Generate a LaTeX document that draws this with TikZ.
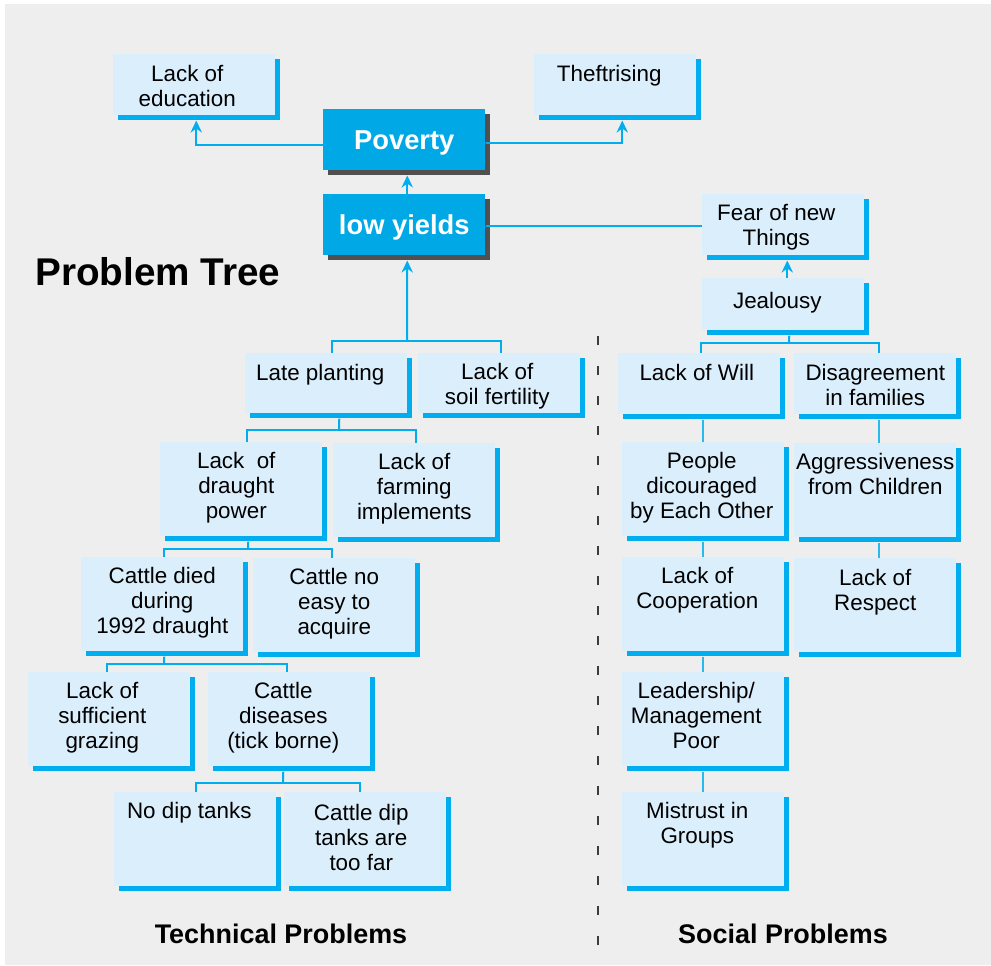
\documentclass[tikz,border=0pt]{standalone}
\usepackage{fontspec}
\setmainfont{Liberation Sans}
\usetikzlibrary{shadows,arrows.meta}
\definecolor{bgc}{HTML}{EEEEEE}
\definecolor{boxc}{HTML}{DBEEFB}
\definecolor{cyc}{HTML}{00AEEF}
\definecolor{povc}{HTML}{00A9E6}
\definecolor{darkc}{HTML}{505050}
\definecolor{divc}{HTML}{3C3C3C}
\tikzset{
  bx/.style={fill=boxc, inner sep=0pt, anchor=north west,
    font=\fontsize{16.8pt}{18.75pt}\selectfont,
    drop shadow={shadow xshift=3.75pt, shadow yshift=-3.75pt, fill=cyc, opacity=1}},
  kbox/.style={fill=povc, inner sep=0pt, anchor=north west, text=white,
    minimum width=121.5pt, minimum height=45.75pt, text depth=0pt,
    font=\bfseries\fontsize{20.5pt}{24pt}\selectfont,
    drop shadow={shadow xshift=3.75pt, shadow yshift=-3.75pt, fill=darkc, opacity=1}},
  ln/.style={draw=cyc, line width=1.5pt},
  ln2/.style={draw=cyc!85, line width=1.5pt},
  upar/.style={-{Stealth[length=9pt,width=8.5pt,inset=3pt]}},
  divider/.style={draw=divc, line width=2.2pt, dash pattern=on 6.75pt off 15.75pt},
  bigtitle/.style={inner sep=0pt, font=\bfseries\fontsize{29pt}{34pt}\selectfont},
  subtitle/.style={inner sep=0pt, font=\bfseries\fontsize{20.2pt}{24pt}\selectfont}
}
% name, x1, y1, x2, y2, left offset (px), first baseline (px), text
\newcommand\pbx[8]{%
  \node[bx] (#1) at (#2,#3) {\parbox[t][\dimexpr0.75pt*\numexpr#5-#3\relax\relax][t]{\dimexpr0.75pt*\numexpr#4-#2\relax\relax}{\centering\rightskip=#6\dimexpr1.5pt\relax plus 1fil\relax\rule{0pt}{#7\dimexpr0.75pt\relax}#8\par}};
  \coordinate (#1s) at ([yshift=-3.75pt]#1.south);}
\begin{document}
\begin{tikzpicture}[x=0.75pt, y=-0.75pt]
\useasboundingbox (0,0) rectangle (991,965);
\fill[white] (0,0) rectangle (991,965);
\fill[bgc] (5,4) rectangle (991,965);

% top
\node[kbox] (pov) at (323,109) {Poverty};
\coordinate (povs) at ([yshift=-3.75pt]pov.south);
\node[kbox] (low) at (323,194) {low yields};
\coordinate (lows) at ([yshift=-3.75pt]low.south);

\pbx{edu}{113}{54}{275}{115}{7}{27}{Lack of\\education}
\pbx{theft}{534}{54}{696}{115}{6}{27}{Theftrising}
\pbx{fear}{702}{194}{864}{255}{7}{26}{Fear of new\\Things}
\pbx{jeal}{702}{278}{864}{330}{6}{30}{Jealousy}

% technical side
\pbx{late}{245}{353}{407}{413}{6}{27}{Late planting}
\pbx{soil}{418}{353}{580}{413}{2}{26}{Lack of\\soil fertility}
\pbx{draught}{160}{442}{322}{536}{5}{26}{Lack~ of\\draught\\power}
\pbx{farm}{333}{443}{495}{537}{0}{26}{Lack of\\farming\\implements}
\pbx{died}{81}{557}{243}{651}{0}{26}{Cattle died\\during\\1992 draught}
\pbx{cno}{253}{558}{415}{652}{0}{26}{Cattle no\\easy to\\acquire}
\pbx{graz}{28}{672}{190}{766}{7}{26}{Lack of\\sufficient\\grazing}
\pbx{dis1}{208}{672}{370}{766}{6}{26}{Cattle\\diseases\\(tick borne)}
\pbx{nodip}{114}{792}{276}{886}{6}{26}{No dip tanks}
\pbx{far}{284}{792}{446}{886}{4}{28}{Cattle dip\\tanks are\\too far}

% social side
\pbx{will}{618}{353}{780}{414}{2.5}{27}{Lack of Will}
\pbx{dis}{794}{353}{956}{414}{0}{27}{Disagreement\\in families}
\pbx{people}{622}{442}{784}{536}{1.5}{26}{People\\dicouraged\\by Each Other}
\pbx{agg}{794}{443}{956}{537}{0}{26}{Aggressiveness\\from Children}
\pbx{coop}{622}{557}{784}{651}{6}{26}{Lack of\\Cooperation}
\pbx{resp}{794}{558}{956}{652}{0}{27}{Lack of\\Respect}
\pbx{lead}{622}{672}{784}{766}{7}{26}{Leadership/\\Management\\Poor}
\pbx{mist}{622}{792}{784}{886}{6}{26}{Mistrust in\\Groups}

% titles
\node[bigtitle, anchor=base west] (title) at (35,285) {Problem Tree};
\node[subtitle, anchor=base] (tech) at (281,943) {Technical Problems};
\node[subtitle, anchor=base] (soc) at (783,943) {Social Problems};

% divider
\draw[divider] (598,336) -- (598,945);

% top connectors
\draw[ln,upar] ([yshift=-4.1pt]pov.west) -| ([xshift=1.5pt]edus);
\draw[ln,upar] ([yshift=-2.6pt]pov.east) -| ([xshift=5.25pt]thefts);
\draw[ln,upar] ([xshift=2.25pt]low.north) -- ([xshift=2.25pt]povs);
\draw[ln] ([yshift=-1.1pt]low.east) -- ([yshift=-1.1pt]fear.west);
\draw[ln,upar] ([xshift=3pt]jeal.north) -- ([xshift=3pt]fears);

% social connectors
\coordinate (jb) at (789,343);
\draw[ln] ([xshift=4.5pt]jeals) -- (jb);
\draw[ln] ([xshift=1.5pt]will.north) |- (jb) -| ([xshift=3pt]dis.north);
\draw[ln2] (people.north) -- (people.north |- wills);
\draw[ln2] ([xshift=3pt]agg.north) -- ([xshift=3pt]diss);
\draw[ln2] (coop.north) -- (peoples);
\draw[ln2] ([xshift=3pt]resp.north) -- ([xshift=3pt]aggs);
\draw[ln2] (lead.north) -- (coops);
\draw[ln2] (mist.north) -- (leads);

% technical connectors
\coordinate (lb) at (407,341);
\draw[ln,upar] (lb) -- ([xshift=2.25pt]lows);
\draw[ln] ([xshift=4.5pt]late.north) |- (lb) -| ([xshift=1.5pt]soil.north);
\coordinate (pb) at (339,430);
\draw[ln] ([xshift=9.75pt]lates) -- (pb);
\draw[ln] ([xshift=4.5pt]draught.north) |- (pb) -| ([xshift=1.5pt]farm.north);
\coordinate (db) at (248,549);
\draw[ln] ([xshift=5.25pt]draughts) -- (db);
\draw[ln] ([xshift=1.5pt]died.north) |- (db) -| ([xshift=-1.5pt]cno.north);
\coordinate (cb) at (164,664);
\draw[ln] ([xshift=1.5pt]dieds) -- (cb);
\draw[ln] ([xshift=-1.5pt]graz.north) |- (cb) -| ([xshift=-1.5pt]dis1.north);
\coordinate (tb) at (283,783);
\draw[ln] ([xshift=-4.5pt]dis1s) -- (tb);
\draw[ln] ([xshift=0.75pt]nodip.north) |- (tb) -| ([xshift=-3.75pt]far.north);
\end{tikzpicture}
\end{document}
